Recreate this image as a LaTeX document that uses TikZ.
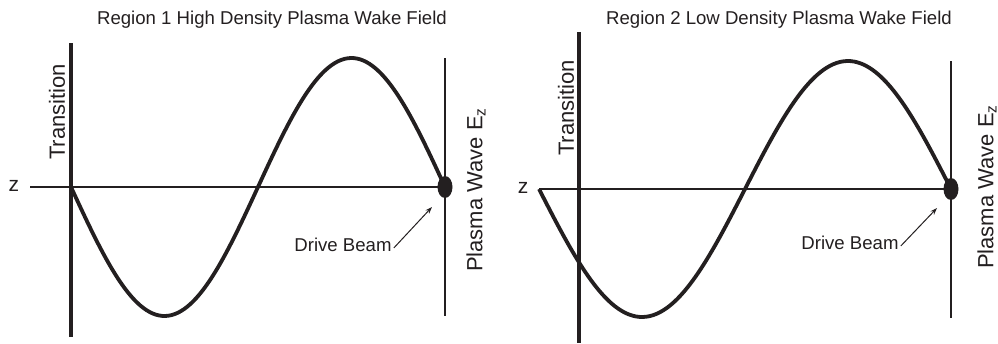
\documentclass[tikz,border=0pt]{standalone}
\usepackage{fontspec}
\setmainfont{Liberation Sans}
\usetikzlibrary{arrows.meta}
\definecolor{ink}{HTML}{231F20}
\begin{document}
\begin{tikzpicture}[x=1pt,y=-1pt,
  titletxt/.style={font=\fontsize{18.6}{22}\selectfont, text=ink, inner sep=0},
  vtxt/.style={font=\fontsize{22}{26}\selectfont, text=ink, rotate=90, inner sep=0},
  lbltxt/.style={font=\fontsize{18.6}{22}\selectfont, text=ink, inner sep=0},
  ztxt/.style={font=\fontsize{21}{24}\selectfont, text=ink, inner sep=0},
  transline/.style={draw=ink, line width=3.4pt},
  axisline/.style={draw=ink, line width=1.3pt},
  plasmaline/.style={draw=ink, line width=1.8pt},
  wave/.style={draw=ink, line width=3.8pt, line join=round},
  beamarrow/.style={draw=ink, line width=1pt, -{Stealth[length=7pt,width=5pt]}}]
\useasboundingbox (0,0) rectangle (998,343);
% ---------- Region 1 ----------
\node[titletxt] (t1) at (272,20) {Region 1 High Density Plasma Wake Field};
\coordinate (tr1top) at (71,43);
\coordinate (tr1bot) at (71,337);
\draw[transline] (tr1top) -- (tr1bot);
\node[vtxt] (trl1) at (57,112) {Transition};
\node[ztxt] (z1) at (14,186) {z};
\coordinate (ax1r) at (445,187);
\draw[axisline] (30,187) -- (ax1r);
\draw[plasmaline] (445,58) -- (445,316);
\draw[wave] plot[domain=0:360, samples=120, smooth] ({71+\x*(374/360)}, {187+129*sin(\x)});
\fill[ink] (445,187) ellipse (7.5 and 11);
\node[vtxt] (pw1) at (476,190) {Plasma Wave E\textsubscript{z}};
\node[lbltxt] (db1) at (343,245) {Drive Beam};
\coordinate (db1tip) at (432,207);
\draw[beamarrow] (db1.east) ++(2,3) -- (db1tip);
% ---------- Region 2 ----------
\node[titletxt] (t2) at (779,20) {Region 2 Low Density Plasma Wake Field};
\draw[transline] (579,32) -- (579,343);
\node[vtxt] (trl2) at (566,108) {Transition};
\node[ztxt] (z2) at (523,188) {z};
\draw[axisline] (539,189) -- (951,189);
\draw[plasmaline] (951,61) -- (951,318);
\draw[wave] plot[domain=0:360, samples=120, smooth] ({539+\x*(412/360)}, {189+128*sin(\x)});
\fill[ink] (951,189) ellipse (7.5 and 11);
\node[vtxt] (pw2) at (987,187) {Plasma Wave E\textsubscript{z}};
\node[lbltxt] (db2) at (850,243) {Drive Beam};
\coordinate (db2tip) at (937,208);
\draw[beamarrow] (db2.east) ++(2,3) -- (db2tip);
\end{tikzpicture}
\end{document}
